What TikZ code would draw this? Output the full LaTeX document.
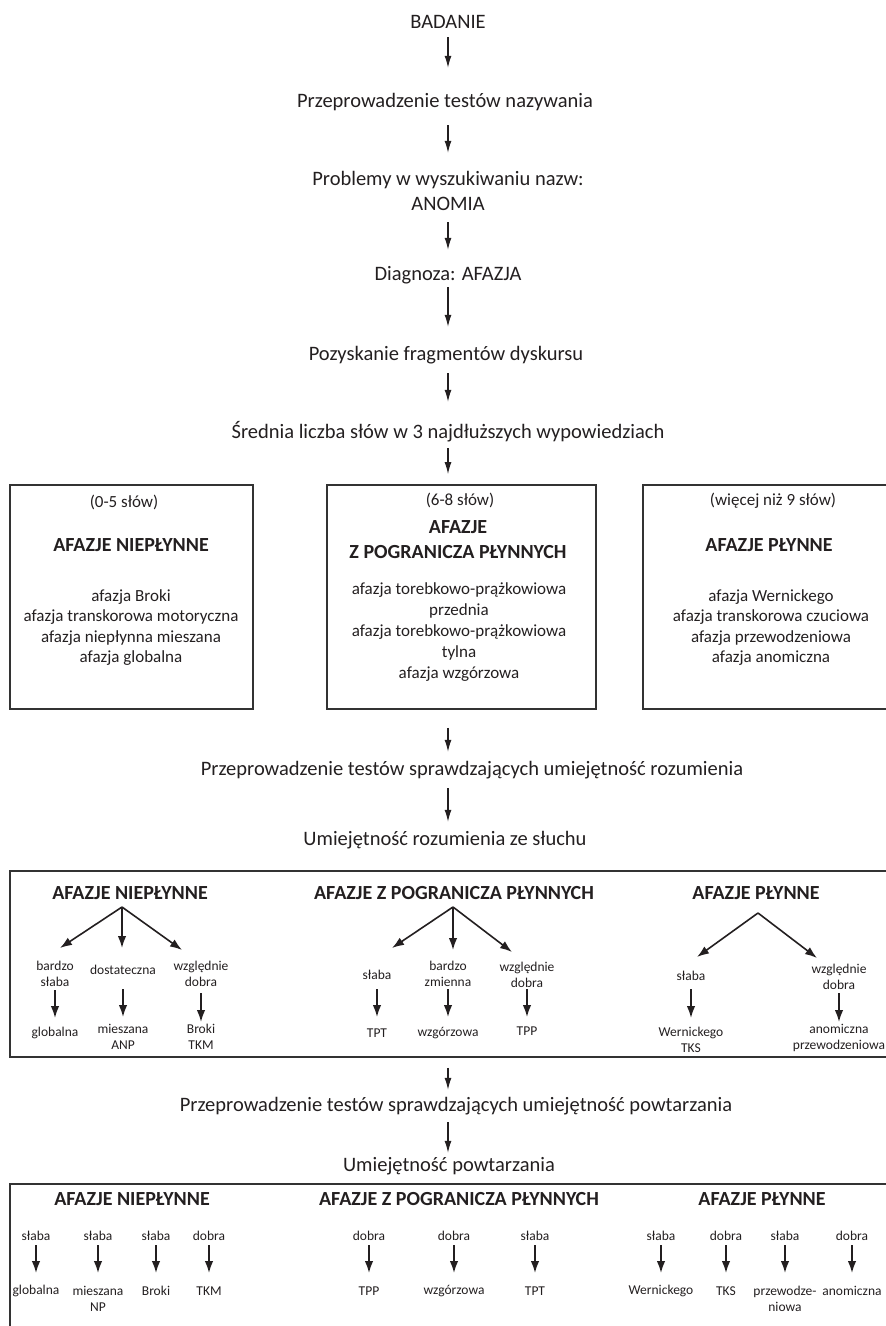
\documentclass[tikz,border=0pt]{standalone}
\usepackage{fontspec}
\setmainfont{Carlito}
\usetikzlibrary{arrows.meta}
\definecolor{ink}{HTML}{231F20}
\definecolor{rule}{HTML}{333333}
\newcommand\FMain{\fontsize{20.5}{24}\selectfont}
\newcommand\FHead{\fontsize{20}{25}\selectfont\bfseries}
\newcommand\FList{\fontsize{17}{20.4}\selectfont}
\newcommand\FListM{\fontsize{17}{21}\selectfont}
\newcommand\FLab{\fontsize{13.5}{16}\selectfont}
% one branch: label, arrow, result
\newcommand\branch[8]{%
  \node[lab] (#1l) at (#2,#3) {#4};
  \node[lab] (#1r) at (#2,#7) {#8};
  \draw[farr] ([yshift={(#3-#5)*1pt}]#1l.center) -- ([yshift={(#7-#6)*1pt}]#1r.center);
}
\begin{document}
\begin{tikzpicture}[x=1pt,y=-1pt,
  every node/.style={text=ink},
  main/.style={font=\FMain, inner sep=0pt, text height=14pt, text depth=4pt},
  head/.style={font=\FHead, inner sep=0pt, align=center},
  list/.style={font=\FList, inner sep=0pt, align=center},
  lab/.style={font=\FLab, inner sep=0pt, align=center},
  frame/.style={draw=rule, line width=1.8pt, inner sep=0pt},
  arr/.style={draw=ink, -{Latex[length=12pt,width=7pt]}, line width=1.2pt},
  farr/.style={draw=ink, -{Latex[length=12pt,width=8.5pt]}, line width=1.6pt},
]
\useasboundingbox (0,0) rectangle (886,1326);
\clip (0,0) rectangle (886,1326);

% ---- main sequence ----
\node[main] (t0) at (448,23) {BADANIE};
\node[main] (t1) at (445,102) {Przeprowadzenie testów nazywania};
\node[main] (t2) at (448,180) {Problemy w wyszukiwaniu nazw:};
\node[main] (t2b) at (448,205) {ANOMIA};
\node[main] (t3) at (448,275) {Diagnoza: AFAZJA};
\node[main] (t4) at (446,355) {Pozyskanie fragmentów dyskursu};
\node[main] (t5) at (448,433) {Średnia liczba słów w 3 najdłuższych wypowiedziach};

% ---- word-count boxes ----
\node[frame, minimum width=243pt, minimum height=224pt] (boxL) at (131.5,597) {};
\node[frame, minimum width=269pt, minimum height=224pt] (boxM) at (461.5,597) {};
\node[frame, minimum width=250pt, minimum height=224pt] (boxR) at (768,597) {};

\node[list] (wL) at (124,502) {(0-5 słów)};
\node[head] (hL) at (131,545) {AFAZJE NIEPŁYNNE};
\node[list] (aL) at (131,627.5) {afazja Broki\\afazja transkorowa motoryczna\\afazja niepłynna mieszana\\afazja globalna};

\node[list] (wM) at (460,500) {(6-8 słów)};
\node[head] (hM) at (458,539.5) {AFAZJE\\Z POGRANICZA PŁYNNYCH};
\node[list, font=\FListM] (aM) at (459,632) {afazja torebkowo-prążkowiowa\\przednia\\afazja torebkowo-prążkowiowa\\tylna\\afazja wzgórzowa};

\node[list] (wR) at (773,501) {(więcej niż 9 słów)};
\node[head] (hR) at (769,545) {AFAZJE PŁYNNE};
\node[list] (aR) at (771,627.5) {afazja Wernickego\\afazja transkorowa czuciowa\\afazja przewodzeniowa\\afazja anomiczna};

\node[main] (t6) at (472,770) {Przeprowadzenie testów sprawdzających umiejętność rozumienia};
\node[main] (t7) at (445,840) {Umiejętność rozumienia ze słuchu};

% ---- comprehension box ----
\node[frame, minimum width=890pt, minimum height=186pt] (boxC) at (455,964) {};
\node[head] (c1) at (130,893) {AFAZJE NIEPŁYNNE};
\node[head] (c2) at (454,893) {AFAZJE Z POGRANICZA PŁYNNYCH};
\node[head] (c3) at (756,893) {AFAZJE PŁYNNE};

\coordinate (f1) at (122,907);
\coordinate (f1a) at (60,948);
\coordinate (f1b) at (122,948);
\coordinate (f1c) at (182,950);
\coordinate (f2) at (453,907);
\coordinate (f2a) at (392,948);
\coordinate (f2b) at (453,950);
\coordinate (f2c) at (512,952);
\coordinate (f3) at (758,913);
\coordinate (f3a) at (697,957);
\coordinate (f3b) at (817,958);
\foreach \t in {f1a,f1b,f1c} \draw[farr] (f1) -- (\t);
\foreach \t in {f2a,f2b,f2c} \draw[farr] (f2) -- (\t);
\foreach \t in {f3a,f3b} \draw[farr] (f3) -- (\t);

\branch{ca}{55}{974}{bardzo\\słaba}{990}{1018}{1033}{globalna}
\branch{cb}{123}{970}{dostateczna}{989}{1017}{1036.5}{mieszana\\ANP}
\branch{cc}{201}{974}{względnie\\dobra}{993}{1022}{1036.5}{Broki\\TKM}
\branch{cd}{377}{975}{słaba}{989}{1017}{1033}{TPT}
\branch{ce}{448}{974}{bardzo\\zmienna}{989}{1017}{1033}{wzgórzowa}
\branch{cf}{527}{975}{względnie\\dobra}{989}{1017}{1031}{TPP}
\branch{cg}{691}{976}{słaba}{989}{1018}{1039.5}{Wernickego\\TKS}
\branch{ch}{839}{977}{względnie\\dobra}{993}{1022}{1038}{anomiczna\\przewodzeniowa}

\node[main] (t8) at (456,1106) {Przeprowadzenie testów sprawdzających umiejętność powtarzania};
\node[main] (t9) at (449,1166) {Umiejętność powtarzania};

% ---- repetition box ----
\node[frame, minimum width=890pt, minimum height=156pt] (boxP) at (455,1262) {};
\node[head] (p1) at (132,1199) {AFAZJE NIEPŁYNNE};
\node[head] (p2) at (459,1199) {AFAZJE Z POGRANICZA PŁYNNYCH};
\node[head] (p3) at (762,1199) {AFAZJE PŁYNNE};

\branch{pa}{36}{1236}{słaba}{1245}{1273}{1291}{globalna}
\branch{pb}{98}{1236}{słaba}{1245}{1273}{1299}{mieszana\\NP}
\branch{pc}{156}{1236}{słaba}{1245}{1273}{1291}{Broki}
\branch{pd}{209}{1236}{dobra}{1245}{1273}{1291}{TKM}
\branch{pe}{369}{1236}{dobra}{1245}{1273}{1291}{TPP}
\branch{pf}{454}{1236}{dobra}{1245}{1273}{1291}{wzgórzowa}
\branch{pg}{535}{1236}{słaba}{1245}{1273}{1291}{TPT}
\branch{ph}{661}{1236}{słaba}{1245}{1273}{1291}{Wernickego}
\branch{pi}{726}{1236}{dobra}{1245}{1273}{1291}{TKS}
\branch{pj}{785}{1236}{słaba}{1245}{1273}{1299}{przewodze-\\niowa}
\branch{pk}{852}{1236}{dobra}{1245}{1273}{1291}{anomiczna}

% ---- main arrows ----
\draw[arr, shorten <=5pt, shorten >=25pt] (t0.south) -- (t1.north -| t0);
\draw[arr, shorten <=14pt, shorten >=18pt] (t1.south -| t0) -- (t2.north -| t0);
\draw[arr, shorten <=8pt, shorten >=16pt] (t2b.south -| t0) -- (t3.north -| t0);
\draw[arr, shorten <=3pt, shorten >=19pt] (t3.south -| t0) -- (t4.north -| t0);
\draw[arr, shorten <=9pt, shorten >=22pt] (t4.south -| t0) -- (t5.north -| t0);
\draw[arr, shorten <=6pt, shorten >=10pt] (t5.south -| t0) -- (boxM.north -| t0);
\draw[arr, shorten <=18pt, shorten >=9pt] (boxM.south -| t0) -- (t6.north -| t0);
\draw[arr, shorten <=9pt, shorten >=9pt] (t6.south -| t0) -- (t7.north -| t0);
\draw[arr, shorten <=10pt, shorten >=7pt] (boxC.south -| t0) -- (t8.north -| t0);
\draw[arr, shorten <=7pt, shorten >=4pt] (t8.south -| t0) -- (t9.north -| t0);
\end{tikzpicture}
\end{document}
